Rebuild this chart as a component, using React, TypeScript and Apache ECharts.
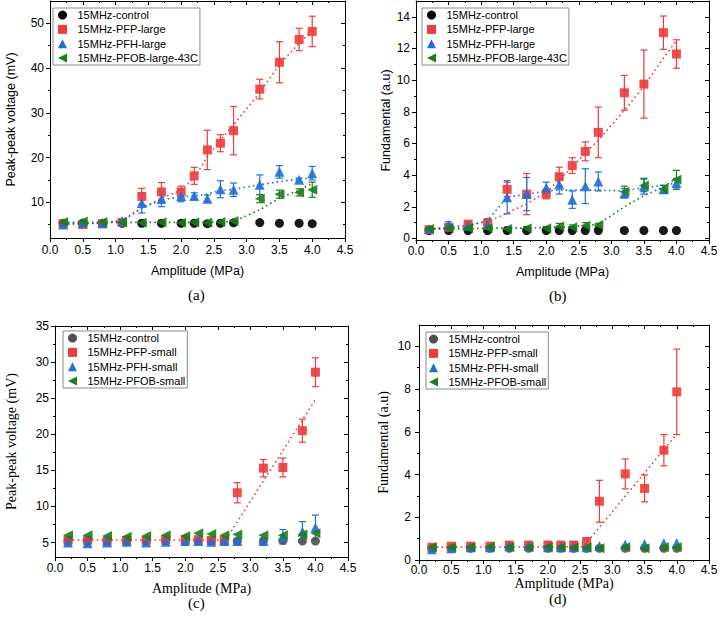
import React, { useEffect, useRef } from "react";
import * as echarts from "echarts";

// ---------- data ----------
const X = [0.2, 0.5, 0.8, 1.1, 1.4, 1.7, 2.0, 2.2, 2.4, 2.6, 2.8, 3.2, 3.5, 3.8, 4.0];
const xMajor = [0, 0.5, 1, 1.5, 2, 2.5, 3, 3.5, 4, 4.5];
const xMinor = [0.25, 0.75, 1.25, 1.75, 2.25, 2.75, 3.25, 3.75, 4.25];

// panel (a) peak-peak voltage, large
const ctrlA = [5.3, 5.3, 5.3, 5.3, 5.3, 5.3, 5.3, 5.3, 5.2, 5.3, 5.4, 5.45, 5.3, 5.3, 5.2];
const pfpA = [5.2, 5.0, 5.2, 5.5, 11.3, 12.3, 12.3, 15.9, 21.7, 23.2, 26.0, 35.3, 41.3, 46.4, 48.2];
const pfpAErr = [0.3, 0.3, 0.3, 0.3, 1.8, 2.1, 1.3, 1.9, 4.4, 1.9, 5.4, 2.2, 4.6, 2.5, 3.4];
const pfhA = [5.0, 5.4, 5.3, 5.8, 9.8, 10.7, 11.4, 11.4, 10.8, 12.9, 12.8, 13.9, 16.8, 15.0, 16.5];
const pfhAErr = [0.3, 0.3, 0.3, 0.3, 2.2, 1.7, 1.3, 0.7, 0.8, 1.9, 1.5, 2.2, 1.4, 0.4, 1.5];
const pfobA = [5.6, 5.7, 5.6, 5.5, 5.4, 5.5, 5.4, 5.5, 5.4, 5.6, 5.8, 10.8, 11.8, 12.2, 12.8];
const pfobAErr = [0.2, 0.2, 0.2, 0.2, 0.2, 0.2, 0.2, 0.2, 0.2, 0.2, 0.2, 0.9, 0.9, 0.8, 1.7];
const fitPfpA = [5.2, 5.2, 5.3, 6.0, 8.7, 10.9, 12.7, 15.4, 20.2, 23.9, 27.3, 34.5, 40.8, 45.5, 48.5];
const fitPfhA = [5.1, 5.2, 5.4, 5.7, 8.7, 10.5, 11.25, 11.4, 11.85, 12.6, 12.9, 13.9, 14.6, 15.2, 15.4];
const fitPfobA = [5.5, 5.5, 5.5, 5.5, 5.5, 5.5, 5.5, 5.5, 5.5, 5.6, 5.7, 8.3, 10.9, 12.7, 14.2];
const yTicksA = [10, 20, 30, 40, 50];
const yMinorA = [5, 15, 25, 35, 45];

// panel (b) fundamental, large
const ctrlB = [0.5, 0.5, 0.5, 0.5, 0.5, 0.5, 0.5, 0.5, 0.5, 0.5, 0.5, 0.5, 0.5, 0.5, 0.5];
const pfpB = [0.55, 0.7, 0.9, 0.95, 3.1, 2.8, 2.8, 3.9, 4.6, 5.5, 6.7, 9.2, 9.75, 13.0, 11.65];
const pfpBErr = [0.1, 0.15, 0.15, 0.2, 0.45, 1.3, 0.3, 0.6, 0.5, 0.6, 1.6, 1.1, 2.15, 1.05, 0.9];
const pfhB = [0.6, 0.85, 0.8, 0.85, 2.6, 2.8, 3.2, 3.4, 2.45, 3.3, 3.6, 2.85, 3.3, 3.1, 3.5];
const pfhBErr = [0.15, 0.2, 0.2, 0.4, 1.05, 1.05, 0.35, 0.6, 0.55, 1.1, 0.6, 0.3, 0.5, 0.25, 0.3];
const pfobB = [0.6, 0.65, 0.65, 0.65, 0.6, 0.65, 0.65, 0.75, 0.7, 0.8, 0.85, 2.95, 3.35, 3.1, 3.7];
const pfobBErr = [0.1, 0.1, 0.1, 0.1, 0.1, 0.1, 0.1, 0.2, 0.15, 0.2, 0.1, 0.35, 0.4, 0.25, 0.6];
const fitPfpB = [0.55, 0.7, 0.85, 1.05, 1.6, 2.2, 2.9, 3.7, 4.5, 5.4, 6.2, 8.1, 9.6, 11.4, 12.5];
const fitPfhB = [0.6, 0.7, 0.75, 1.15, 2.6, 2.8, 3.0, 3.05, 3.05, 3.05, 3.05, 3.0, 3.2, 3.35, 3.5];
const fitPfobB = [0.6, 0.6, 0.6, 0.65, 0.65, 0.65, 0.7, 0.7, 0.75, 0.8, 0.9, 2.0, 2.7, 3.25, 3.8];
const yTicksB = [0, 2, 4, 6, 8, 10, 12, 14];
const yMinorB = [1, 3, 5, 7, 9, 11, 13];

// panel (c) peak-peak voltage, small
const ctrlC = [5.2, 5.2, 5.2, 5.2, 5.2, 5.2, 5.2, 5.2, 5.2, 5.2, 5.2, 5.2, 5.3, 5.2, 5.2];
const pfpC = [5.3, 5.3, 5.2, 5.3, 5.3, 5.4, 5.4, 5.4, 5.3, 5.3, 11.9, 15.3, 15.4, 20.5, 28.6];
const pfpCErr = [0.2, 0.3, 0.2, 0.2, 0.2, 0.3, 0.3, 0.3, 0.3, 0.2, 1.4, 1.2, 1.3, 1.6, 2.0];
const pfhC = [5.0, 4.9, 5.0, 5.1, 5.0, 5.1, 5.2, 5.2, 5.1, 5.2, 5.2, 5.2, 5.8, 6.5, 7.1];
const pfhCErr = [0.3, 0.4, 0.3, 0.3, 0.3, 0.3, 0.2, 0.2, 0.2, 0.2, 0.2, 0.4, 1.0, 1.4, 1.7];
const pfobC = [6.0, 6.0, 5.9, 5.8, 5.9, 6.0, 5.9, 6.3, 6.2, 6.0, 6.1, 6.0, 6.0, 6.1, 6.3];
const fitXC = [0.2, 2.62, 4.0];
const fitPfpC = [5.35, 5.35, 24.8];
const yTicksC = [5, 10, 15, 20, 25, 30, 35];
const yMinorC = [7.5, 12.5, 17.5, 22.5, 27.5, 32.5];

// panel (d) fundamental, small
const ctrlD = [0.55, 0.55, 0.55, 0.55, 0.55, 0.55, 0.55, 0.55, 0.55, 0.55, 0.55, 0.55, 0.55, 0.55, 0.55];
const pfpD = [0.6, 0.65, 0.65, 0.65, 0.7, 0.7, 0.7, 0.7, 0.7, 0.85, 2.75, 4.03, 3.35, 5.14, 7.87];
const pfpDErr = [0.05, 0.05, 0.05, 0.05, 0.1, 0.15, 0.15, 0.15, 0.15, 0.2, 0.98, 0.7, 0.63, 0.73, 2.0];
const pfhD = [0.5, 0.55, 0.6, 0.6, 0.65, 0.65, 0.6, 0.6, 0.6, 0.6, 0.65, 0.72, 0.75, 0.78, 0.8];
const pfobD = [0.6, 0.6, 0.6, 0.62, 0.6, 0.6, 0.62, 0.6, 0.6, 0.58, 0.55, 0.6, 0.55, 0.6, 0.6];
const fitXD = [0.2, 2.55, 4.0];
const fitPfpD = [0.6, 0.62, 5.9];
const yTicksD = [0, 2, 4, 6, 8, 10];
const yMinorD = [1, 3, 5, 7, 9];

// ---------- styles ----------
const RED = "#EE3B3B";
const BLUE = "#1F6FD6";
const GREEN = "#1B7D1B";
const BLACK = "#000000";
const GRAY = "#505050";
const SANS = "'Liberation Sans', Arial, sans-serif";
const SERIF = "'Liberation Serif', 'Times New Roman', serif";
const TRI_LEFT = "path://M0,5L10,0L10,10Z";
const SQUARE_ICON = "path://M0,0L10,0L10,10L0,10Z";
const TRI_UP_ICON = "path://M5,0L10,10L0,10Z";

type S = { name: string; vals: number[]; err?: number[]; color: string; symbol: string; icon: string; size: number };
type F = { xs: number[]; ys: number[]; color: string };

const panels = [
  {
    grid: { left: 50, top: 1, width: 295, height: 237 },
    yMin: 2, yMax: 55, yMajor: yTicksA, yMinor: yMinorA,
    yName: "Peak-peak voltage (mV)", yGap: 33, xGap: 26, xLabelMargin: 6, yLabelMargin: 6, titleFont: SANS, titleSize: 12.5,
    caption: "(a)", capPos: [197, 295],
    legend: { left: 53, top: 8, padding: [0, 2, 0, 5] },
    series: [
      { name: "15MHz-control", vals: ctrlA, color: BLACK, symbol: "circle", icon: "circle", size: 9 },
      { name: "15MHz-PFP-large", vals: pfpA, err: pfpAErr, color: RED, symbol: "rect", icon: SQUARE_ICON, size: 9 },
      { name: "15MHz-PFH-large", vals: pfhA, err: pfhAErr, color: BLUE, symbol: "triangle", icon: TRI_UP_ICON, size: 10 },
      { name: "15MHz-PFOB-large-43C", vals: pfobA, err: pfobAErr, color: GREEN, symbol: TRI_LEFT, icon: TRI_LEFT, size: 10 },
    ] as S[],
    fits: [
      { xs: X, ys: fitPfpA, color: RED },
      { xs: X, ys: fitPfhA, color: BLUE },
      { xs: X, ys: fitPfobA, color: GREEN },
    ] as F[],
  },
  {
    grid: { left: 416, top: 1, width: 293, height: 239 },
    yMin: -0.1, yMax: 15, yMajor: yTicksB, yMinor: yMinorB,
    yName: "Fundamental (a.u)", yGap: 21, xGap: 25, xLabelMargin: 5, yLabelMargin: 6, titleFont: SANS, titleSize: 12.5,
    caption: "(b)", capPos: [558, 296],
    legend: { left: 422, top: 8, padding: [0, 2, 0, 5] },
    series: [
      { name: "15MHz-control", vals: ctrlB, color: BLACK, symbol: "circle", icon: "circle", size: 9 },
      { name: "15MHz-PFP-large", vals: pfpB, err: pfpBErr, color: RED, symbol: "rect", icon: SQUARE_ICON, size: 9 },
      { name: "15MHz-PFH-large", vals: pfhB, err: pfhBErr, color: BLUE, symbol: "triangle", icon: TRI_UP_ICON, size: 10 },
      { name: "15MHz-PFOB-large-43C", vals: pfobB, err: pfobBErr, color: GREEN, symbol: TRI_LEFT, icon: TRI_LEFT, size: 10 },
    ] as S[],
    fits: [
      { xs: X, ys: fitPfpB, color: RED },
      { xs: X, ys: fitPfhB, color: BLUE },
      { xs: X, ys: fitPfobB, color: GREEN },
    ] as F[],
  },
  {
    grid: { left: 55, top: 326, width: 293, height: 231 },
    yMin: 3, yMax: 35, yMajor: yTicksC, yMinor: yMinorC,
    yName: "Peak-peak voltage (mV)", yGap: 37, xGap: 24, xLabelMargin: 5, yLabelMargin: 6, titleFont: SERIF, titleSize: 14,
    caption: "(c)", capPos: [197, 603],
    legend: { left: 63, top: 331, padding: [0, 2, 0, 5] },
    series: [
      { name: "15MHz-control", vals: ctrlC, color: GRAY, symbol: "circle", icon: "circle", size: 9 },
      { name: "15MHz-PFP-small", vals: pfpC, err: pfpCErr, color: RED, symbol: "rect", icon: SQUARE_ICON, size: 9 },
      { name: "15MHz-PFH-small", vals: pfhC, err: pfhCErr, color: BLUE, symbol: "triangle", icon: TRI_UP_ICON, size: 10 },
      { name: "15MHz-PFOB-small", vals: pfobC, color: GREEN, symbol: TRI_LEFT, icon: TRI_LEFT, size: 10 },
    ] as S[],
    fits: [{ xs: fitXC, ys: fitPfpC, color: RED }] as F[],
  },
  {
    grid: { left: 419, top: 325, width: 290, height: 235 },
    yMin: 0, yMax: 11, yMajor: yTicksD, yMinor: yMinorD,
    yName: "Fundamental (a.u)", yGap: 29, xGap: 15, xLabelMargin: 4, yLabelMargin: 8, titleFont: SERIF, titleSize: 14,
    caption: "(d)", capPos: [558, 599],
    legend: { left: 426, top: 332, padding: [0, 2, 0, 3] },
    series: [
      { name: "15MHz-control", vals: ctrlD, color: GRAY, symbol: "circle", icon: "circle", size: 9 },
      { name: "15MHz-PFP-small", vals: pfpD, err: pfpDErr, color: RED, symbol: "rect", icon: SQUARE_ICON, size: 9 },
      { name: "15MHz-PFH-small", vals: pfhD, color: BLUE, symbol: "triangle", icon: TRI_UP_ICON, size: 10 },
      { name: "15MHz-PFOB-small", vals: pfobD, color: GREEN, symbol: TRI_LEFT, icon: TRI_LEFT, size: 10 },
    ] as S[],
    fits: [{ xs: fitXD, ys: fitPfpD, color: RED }] as F[],
  },
];

function tickAxis(gi: number, pos: string, min: number, max: number, values: number[], len: number, inside: boolean, showLine: boolean, extra: any = {}) {
  return {
    type: "value",
    gridIndex: gi,
    position: pos,
    min,
    max,
    axisLine: { show: showLine, onZero: false, lineStyle: { color: "#000", width: 1 } },
    axisTick: { show: true, inside, length: len, customValues: values, lineStyle: { color: "#000", width: 1 } },
    axisLabel: { show: false },
    splitLine: { show: false },
    ...extra,
  };
}

function buildOption() {
  const xAxis: any[] = [];
  const yAxis: any[] = [];
  const series: any[] = [];
  const legend: any[] = [];
  const grid: any[] = [];
  const graphic: any[] = [];

  panels.forEach((p, gi) => {
    grid.push({ ...p.grid, containLabel: false });
    const xi = xAxis.length;
    const yi = yAxis.length;
    const labelStyle = { color: "#000", fontSize: 12, fontFamily: SANS };
    xAxis.push(
      tickAxis(gi, "bottom", 0, 4.5, xMajor, 4, false, true, {
        axisLabel: { show: true, customValues: xMajor, formatter: (v: number) => v.toFixed(1), margin: p.xLabelMargin, ...labelStyle },
        name: "Amplitude (MPa)",
        nameLocation: "middle",
        nameGap: p.xGap,
        nameTextStyle: { color: "#000", fontSize: p.titleSize, fontFamily: p.titleFont },
      }),
      tickAxis(gi, "bottom", 0, 4.5, xMinor, 2, false, false),
      tickAxis(gi, "top", 0, 4.5, xMajor, 4, true, true),
      tickAxis(gi, "top", 0, 4.5, xMinor, 2, true, false)
    );
    yAxis.push(
      tickAxis(gi, "left", p.yMin, p.yMax, p.yMajor, 4, false, true, {
        axisLabel: { show: true, customValues: p.yMajor, margin: p.yLabelMargin, ...labelStyle },
        name: p.yName,
        nameLocation: "middle",
        nameGap: p.yGap,
        nameTextStyle: { color: "#000", fontSize: p.titleSize, fontFamily: p.titleFont },
      }),
      tickAxis(gi, "left", p.yMin, p.yMax, p.yMinor, 2, false, false),
      tickAxis(gi, "right", p.yMin, p.yMax, p.yMajor, 4, true, true),
      tickAxis(gi, "right", p.yMin, p.yMax, p.yMinor, 2, true, false)
    );

    p.fits.forEach((f, k) => {
      series.push({
        type: "line",
        name: `fit-${gi}-${k}`,
        xAxisIndex: xi,
        yAxisIndex: yi,
        data: f.xs.map((x, i) => [x, f.ys[i]]),
        showSymbol: false,
        symbol: "none",
        lineStyle: { color: f.color, width: 1.6, type: [1.6, 3.2] },
        z: 1,
        silent: true,
      });
    });

    p.series.forEach((s, k) => {
      if (s.err) {
        const errs = s.err;
        const color = s.color;
        series.push({
          type: "custom",
          name: `err-${gi}-${k}`,
          xAxisIndex: xi,
          yAxisIndex: yi,
          data: X.map((x, i) => [x, s.vals[i] - errs[i], s.vals[i] + errs[i]]),
          encode: { x: 0, y: [1, 2] },
          z: 2,
          silent: true,
          renderItem: (_params: any, api: any) => {
            const x = api.value(0);
            const top = api.coord([x, api.value(2)]);
            const bot = api.coord([x, api.value(1)]);
            const w = 3.5;
            const st = { stroke: color, lineWidth: 1.2 };
            return {
              type: "group",
              children: [
                { type: "line", shape: { x1: top[0], y1: top[1], x2: bot[0], y2: bot[1] }, style: st },
                { type: "line", shape: { x1: top[0] - w, y1: top[1], x2: top[0] + w, y2: top[1] }, style: st },
                { type: "line", shape: { x1: bot[0] - w, y1: bot[1], x2: bot[0] + w, y2: bot[1] }, style: st },
              ],
            };
          },
        });
      }
      series.push({
        type: "scatter",
        name: s.name,
        xAxisIndex: xi,
        yAxisIndex: yi,
        data: X.map((x, i) => [x, s.vals[i]]),
        symbol: s.symbol,
        symbolSize: s.size,
        itemStyle: { color: s.color, opacity: 0.9 },
        z: 3,
      });
    });

    legend.push({
      orient: "vertical",
      left: p.legend.left,
      top: p.legend.top,
      padding: p.legend.padding,
      itemWidth: 20,
      itemHeight: 9,
      itemGap: 0,
      symbolKeepAspect: true,
      borderColor: "#8a8a8a",
      borderWidth: 1,
      selectedMode: false,
      textStyle: { color: "#000", fontSize: 11, fontFamily: SANS, lineHeight: 14.25 },
      data: p.series.map((s) => ({
        name: s.name,
        icon: s.icon,
        itemStyle: { color: s.color, opacity: 1 },
      })),
    });

    graphic.push({
      type: "text",
      left: p.capPos[0] - 9,
      top: p.capPos[1] - 8,
      style: { text: p.caption, fill: "#000", font: `15px ${SERIF}` },
    });
  });

  return {
    animation: false,
    backgroundColor: "#ffffff",
    grid,
    xAxis,
    yAxis,
    legend,
    series,
    graphic,
  };
}

export default function App() {
  const ref = useRef<HTMLDivElement>(null);
  useEffect(() => {
    if (!ref.current) return;
    const chart = echarts.init(ref.current, null, { renderer: "svg" });
    chart.setOption(buildOption() as any);
    return () => chart.dispose();
  }, []);
  return (
    <div
      ref={ref}
      style={{ position: "fixed", left: 0, top: 0, width: 722, height: 630, background: "#fff" }}
    />
  );
}
